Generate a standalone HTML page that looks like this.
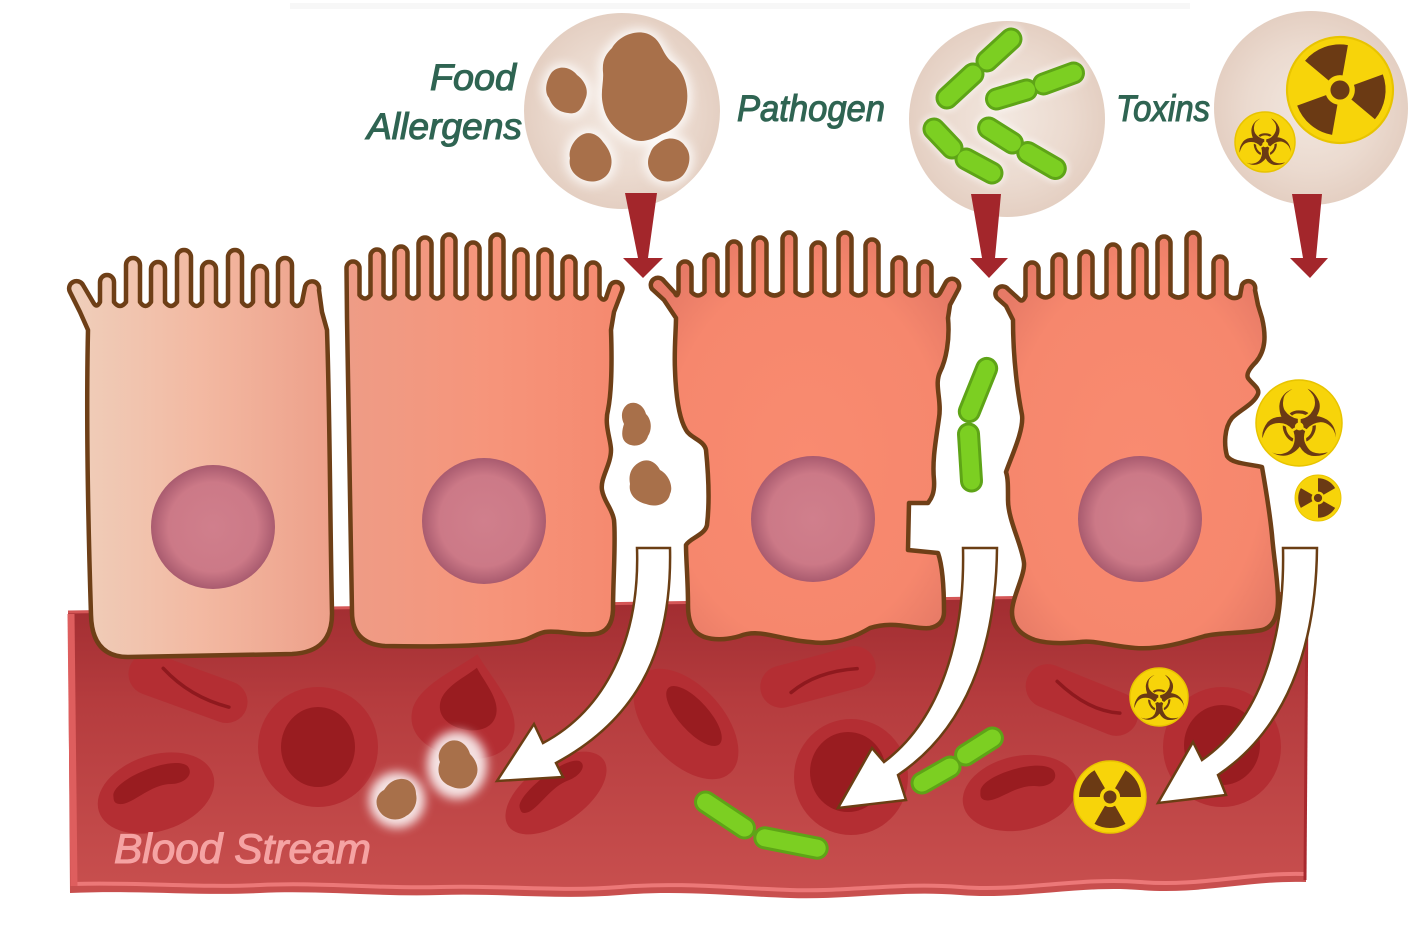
<!DOCTYPE html>
<html><head><meta charset="utf-8"><style>html,body{margin:0;padding:0;background:#fff;}svg{display:block}</style></head>
<body>
<svg width="1420" height="925" viewBox="0 0 1420 925" xmlns="http://www.w3.org/2000/svg">
<defs>
<linearGradient id="vessel" gradientUnits="userSpaceOnUse" x1="0" y1="593" x2="0" y2="900">
<stop offset="0" stop-color="#a02c30"/><stop offset="0.35" stop-color="#b53c3e"/><stop offset="1" stop-color="#c9504f"/>
</linearGradient>
<linearGradient id="c1" x1="0" y1="0" x2="1" y2="0">
<stop offset="0" stop-color="#efcfbb"/><stop offset="0.5" stop-color="#f3b9a2"/><stop offset="1" stop-color="#eda08a"/>
</linearGradient>
<linearGradient id="c2" x1="0" y1="0" x2="1" y2="0">
<stop offset="0" stop-color="#ee9c86"/><stop offset="0.5" stop-color="#f6957b"/><stop offset="1" stop-color="#f5896f"/>
</linearGradient>
<radialGradient id="c3" cx="0.5" cy="0.55" r="0.6">
<stop offset="0" stop-color="#f98b70"/><stop offset="0.75" stop-color="#f6876d"/><stop offset="1" stop-color="#e67a66"/>
</radialGradient>
<radialGradient id="nuc" cx="0.5" cy="0.5" r="0.5">
<stop offset="0" stop-color="#d07f8c"/><stop offset="0.72" stop-color="#cc7987"/><stop offset="1" stop-color="#a95b6f"/>
</radialGradient>
<radialGradient id="circ" cx="0.5" cy="0.5" r="0.5">
<stop offset="0" stop-color="#f2e7df"/><stop offset="0.65" stop-color="#ebdacf"/><stop offset="1" stop-color="#e4cfc2"/>
</radialGradient>
<filter id="blur" x="-50%" y="-50%" width="200%" height="200%"><feGaussianBlur stdDeviation="5"/></filter>
<filter id="blur2" x="-50%" y="-50%" width="200%" height="200%"><feGaussianBlur stdDeviation="3"/></filter>
<g id="rad">
<circle r="100" fill="#f7d40a" stroke="#e8c400" stroke-width="4"/>
<path id="blade" d="M 14 24.25 L 43 74.48 A 86 86 0 0 1 -43 74.48 L -14 24.25 A 28 28 0 0 0 14 24.25 Z" fill="#6b3a14"/>
<use href="#blade" transform="rotate(120)"/>
<use href="#blade" transform="rotate(240)"/>
<circle r="18" fill="#6b3a14"/>
</g>
<path id="cres" d="M -38 -2 C -36 -18 28 -24 38 -8 C 42 2 30 8 18 4 C 0 -2 -20 10 -32 8 C -40 6 -39 2 -38 -2 Z"/>
<path id="tear" d="M 0 -55 C 18 -35 52 -12 52 14 C 52 38 28 50 0 50 C -28 50 -52 38 -52 14 C -52 -12 -18 -35 0 -55 Z"/>
<path id="b1" d="M 612 48 C 620 34 640 28 652 36 C 662 42 662 54 672 62 C 685 72 690 90 686 108 C 683 122 674 130 662 134 C 652 140 640 144 630 138 C 618 132 606 122 603 105 C 600 92 604 82 603 72 C 602 60 606 54 612 48 Z"/>
<path id="b2" d="M 552 72 C 560 64 572 68 577 75 C 584 80 590 90 585 100 C 582 108 578 115 568 113 C 558 112 552 106 549 98 C 544 92 546 80 552 72 Z"/>
<path id="b3" d="M 580 136 C 588 130 598 134 603 142 C 610 150 614 160 610 170 C 606 180 594 184 584 180 C 574 176 568 168 570 158 C 568 150 574 140 580 136 Z"/>
<path id="b4" d="M 660 142 C 668 136 680 138 685 146 C 692 154 690 166 684 174 C 678 182 664 184 656 178 C 648 172 646 162 650 154 C 652 148 654 146 660 142 Z"/>
<path id="b5" d="M 628 404 C 636 400 644 406 646 414 C 652 420 652 430 648 436 C 646 444 636 448 628 444 C 620 440 622 430 624 424 C 620 416 622 408 628 404 Z"/>
<path id="b6" d="M 640 462 C 648 458 656 462 660 470 C 668 474 674 486 670 494 C 668 504 656 508 646 504 C 636 502 628 494 630 484 C 628 474 632 466 640 462 Z"/>
<path id="b7" d="M 450 741 C 460 738 468 746 470 754 C 478 762 480 772 474 780 C 470 790 458 790 450 786 C 440 782 436 772 440 762 C 436 754 442 744 450 741 Z"/>
<path id="b8" d="M 400 779 C 410 778 416 786 416 794 C 418 802 414 812 406 816 C 398 822 386 820 380 812 C 374 804 376 794 384 790 C 388 784 392 780 400 779 Z"/>
</defs>

<!-- faint top line -->
<rect x="290" y="3" width="900" height="6" fill="#f7f7f7"/>

<!-- blood vessel -->
<path d="M 68 612 L 1308 593 L 1306 882 C 1250 880 1200 895 1140 890 C 1080 885 1020 900 960 895 C 900 890 850 900 790 898 C 730 896 680 890 620 895 C 560 900 500 893 440 895 C 380 897 320 890 260 893 C 200 896 140 890 70 893 Z" fill="url(#vessel)"/>
<path d="M 1306 874 C 1250 872 1200 887 1140 882 C 1080 877 1020 892 960 887 C 900 882 850 892 790 890 C 730 888 680 882 620 887 C 560 892 500 885 440 887 C 380 889 320 882 260 885 C 200 888 140 882 73 884" stroke="#ec7878" stroke-width="4" fill="none"/>
<path d="M 71 614 L 74 886" stroke="#de5e5e" stroke-width="7" fill="none"/>
<path d="M 68 612 L 1308 593" stroke="#d45656" stroke-width="3" fill="none"/>
<path d="M 1307 594 L 1305 880" stroke="#a8292e" stroke-width="3" fill="none"/>

<!-- red blood cells -->
<g fill="#b42e33">
<rect x="-62" y="-21" width="124" height="42" rx="21" transform="translate(188,688) rotate(20)"/>
<rect x="-59" y="-21" width="118" height="42" rx="21" transform="translate(818,677) rotate(-15)"/>
<rect x="-59" y="-22" width="118" height="44" rx="22" transform="translate(1082,700) rotate(22)"/>
<ellipse cx="318" cy="747" rx="60" ry="60"/>
<ellipse cx="851" cy="777" rx="57" ry="58"/>
<ellipse cx="1222" cy="747" rx="59" ry="60"/>
<ellipse cx="156" cy="793" rx="60" ry="38" transform="rotate(-18 156 793)"/>
<ellipse cx="556" cy="793" rx="58" ry="30" transform="rotate(-35 556 793)"/>
<ellipse cx="686" cy="724" rx="66" ry="38" transform="rotate(48 686 724)"/>
<ellipse cx="1020" cy="793" rx="58" ry="37" transform="rotate(-12 1020 793)"/>
<use href="#tear" transform="translate(466,708) rotate(12)"/>
</g>
<g fill="#991c20">
<ellipse cx="318" cy="747" rx="37" ry="40"/>
<ellipse cx="848" cy="772" rx="38" ry="40"/>
<ellipse cx="1222" cy="745" rx="38" ry="40"/>
<use href="#cres" transform="translate(152,786) rotate(-18) scale(1.05,1)"/>
<use href="#cres" transform="translate(552,788) rotate(-35) scale(1,0.8)"/>
<use href="#cres" transform="translate(1018,786) rotate(-12)"/>
<ellipse cx="694" cy="716" rx="38" ry="15" transform="rotate(48 694 716)"/>
<use href="#tear" transform="translate(470,700) rotate(12) scale(0.55,0.6)"/>
</g>
<g stroke="#8f191e" stroke-width="3.5" fill="none" stroke-linecap="round">
<path d="M -30 -10 Q 5 8 45 4" transform="translate(188,688) rotate(20)"/>
<path d="M -30 8 Q 0 -6 40 2" transform="translate(818,677) rotate(-15)"/>
<path d="M -30 -8 Q 10 8 40 -2" transform="translate(1082,700) rotate(22)"/>
</g>

<!-- allergens in blood -->
<g fill="#fff" opacity="0.85" filter="url(#blur)">
<ellipse cx="457" cy="765" rx="30" ry="34"/>
<ellipse cx="397" cy="800" rx="28" ry="28"/>
</g>
<g fill="#a8704a">
<use href="#b7"/><use href="#b8"/>
</g>

<!-- bacteria in blood -->
<g stroke-linecap="round">
<g stroke="#5ea417" stroke-width="23">
<line x1="705.5" y1="802" x2="744.5" y2="828"/>
<line x1="764.8" y1="837.8" x2="817.2" y2="848.2"/>
<line x1="922" y1="783" x2="950" y2="767"/>
<line x1="965.6" y1="755" x2="992.4" y2="738"/>
</g>
<g stroke="#7ccf22" stroke-width="17">
<line x1="705.5" y1="802" x2="744.5" y2="828"/>
<line x1="764.8" y1="837.8" x2="817.2" y2="848.2"/>
<line x1="922" y1="783" x2="950" y2="767"/>
<line x1="965.6" y1="755" x2="992.4" y2="738"/>
</g>
</g>

<!-- toxins in blood -->
<circle cx="1159" cy="697" r="29" fill="#f7d40a" stroke="#e8c400" stroke-width="1.5"/>
<text x="1159" y="720" font-family="DejaVu Sans" font-size="62" fill="#6b3a14" text-anchor="middle">☣</text>
<use href="#rad" transform="translate(1110,797) scale(0.36)"/>

<!-- cells -->
<g stroke="#6e3f17" stroke-width="4.5" stroke-linejoin="round">
<path fill="url(#c1)" d="M 88 330 L 80 312 L 70 292 A 7 7 0 0 1 83 285 L 93 302 Q 96.5 309 100 302
L 100 282 A 7 7 0 0 1 114 282 L 114 302 Q 120 310 126 302
L 126 265 A 7 7 0 0 1 140 265 L 140 302 Q 145.5 310 151 302
L 151 269 A 7 7 0 0 1 165 269 L 165 302 Q 171 310 177 302
L 177 257 A 7 7 0 0 1 191 257 L 191 302 Q 196.5 310 202 302
L 202 269 A 7 7 0 0 1 216 269 L 216 302 Q 222 310 228 302
L 228 257 A 7 7 0 0 1 242 257 L 242 302 Q 247.5 310 253 302
L 253 273 A 7 7 0 0 1 267 273 L 267 302 Q 272.5 310 278 302
L 278 265 A 7 7 0 0 1 292 265 L 292 302 Q 297 310 302 302
L 305 287 A 7 7 0 0 1 319 290 L 322 312 L 327 330
C 330 420 330 520 332 612 Q 333 652 292 654 L 128 657 Q 92 657 91 615 C 88 520 86 420 88 330 Z"/>

<path fill="url(#c2)" d="M 347 318 L 346.5 268 A 6.5 6.5 0 0 1 359.5 268 L 359.5 295 Q 365 302 370.5 295
L 370.5 256 A 6.5 6.5 0 0 1 383.5 256 L 383.5 295 Q 389 302 394.5 295
L 394.5 253 A 6.5 6.5 0 0 1 407.5 253 L 407.5 295 Q 413 302 418.5 295
L 418.5 244 A 6.5 6.5 0 0 1 431.5 244 L 431.5 295 Q 437 302 442.5 295
L 442.5 241 A 6.5 6.5 0 0 1 455.5 241 L 455.5 295 Q 461 302 466.5 295
L 466.5 249 A 6.5 6.5 0 0 1 479.5 249 L 479.5 295 Q 485 302 490.5 295
L 490.5 241 A 6.5 6.5 0 0 1 503.5 241 L 503.5 295 Q 509 302 514.5 295
L 514.5 256 A 6.5 6.5 0 0 1 527.5 256 L 527.5 295 Q 533 302 538.5 295
L 538.5 256 A 6.5 6.5 0 0 1 551.5 256 L 551.5 295 Q 557 302 562.5 295
L 562.5 263 A 6.5 6.5 0 0 1 575.5 263 L 575.5 295 Q 581 302 586.5 295
L 586.5 269 A 6.5 6.5 0 0 1 599.5 269 L 599.5 296 Q 603 302 606 298
L 610 286 A 6.5 6.5 0 0 1 622 291 L 614 312 L 611 330
C 612 360 612 390 608 410 C 604 425 611 440 611 450 C 611 465 600 478 602 490 C 604 502 612 508 614 520
C 616 540 613 580 613 610 Q 612 632 595 634 C 575 636 560 630 545 632 C 535 634 530 640 515 642
C 480 646 430 647 385 646 Q 352 644 352 612 C 350 520 348 420 347 318 Z"/>

<path fill="url(#c3)" d="M 676 318 L 664 300 L 652 289 A 7 7 0 0 1 664 281 L 675 293 Q 677 298 678.5 292
L 678.5 268 A 6.5 6.5 0 0 1 691.5 268 L 691.5 292 Q 698 299 704.5 292
L 704.5 261 A 6.5 6.5 0 0 1 717.5 261 L 717.5 292 Q 722.5 299 727.5 292
L 727.5 248 A 6.5 6.5 0 0 1 740.5 248 L 740.5 292 Q 747 299 753.5 292
L 753.5 244 A 6.5 6.5 0 0 1 766.5 244 L 766.5 292 Q 774.5 299 782.5 292
L 782.5 239 A 6.5 6.5 0 0 1 795.5 239 L 795.5 292 Q 803.5 299 811.5 292
L 811.5 249 A 6.5 6.5 0 0 1 824.5 249 L 824.5 292 Q 831.5 299 838.5 292
L 838.5 239 A 6.5 6.5 0 0 1 851.5 239 L 851.5 292 Q 858.5 299 865.5 292
L 865.5 246 A 6.5 6.5 0 0 1 878.5 246 L 878.5 292 Q 885.5 299 892.5 292
L 892.5 264 A 6.5 6.5 0 0 1 905.5 264 L 905.5 292 Q 912 299 918.5 292
L 918.5 268 A 6.5 6.5 0 0 1 931.5 268 L 931.5 292 Q 936 299 940 293
L 946 282 A 7 7 0 0 1 958 290 L 950 305 L 948 318
C 950 340 946 360 940 372 C 934 385 942 400 939 418 C 936 440 932 460 934 480 C 935 495 930 500 928 503
L 909 503 L 908 550 L 938 553 C 944 570 944 600 944 612
Q 944 625 930 628 C 915 630 895 620 870 628 C 850 640 830 645 810 642 C 780 640 760 628 740 636 C 720 642 700 640 693 628 Q 688 620 688 605
C 688 580 686 560 686 545 C 690 538 705 535 707 525 C 710 500 708 470 706 450 C 704 440 690 438 686 430 C 680 420 676 400 675 370 C 674 350 676 330 676 318 Z"/>

<path fill="url(#c3)" d="M 1013 320 L 1006 306 L 997 298 A 7 7 0 0 1 1008 289 L 1020 300 Q 1023 302 1025.5 296
L 1025.5 269 A 6.5 6.5 0 0 1 1038.5 269 L 1038.5 294 Q 1045.5 301 1052.5 294
L 1052.5 261 A 6.5 6.5 0 0 1 1065.5 261 L 1065.5 294 Q 1072.5 301 1079.5 294
L 1079.5 258 A 6.5 6.5 0 0 1 1092.5 258 L 1092.5 294 Q 1099.5 301 1106.5 294
L 1106.5 251 A 6.5 6.5 0 0 1 1119.5 251 L 1119.5 294 Q 1126.5 301 1133.5 294
L 1133.5 251 A 6.5 6.5 0 0 1 1146.5 251 L 1146.5 294 Q 1152 301 1157.5 294
L 1157.5 243 A 6.5 6.5 0 0 1 1170.5 243 L 1170.5 294 Q 1178.5 301 1186.5 294
L 1186.5 239 A 6.5 6.5 0 0 1 1199.5 239 L 1199.5 294 Q 1206.5 301 1213.5 294
L 1213.5 263 A 6.5 6.5 0 0 1 1226.5 263 L 1226.5 294 Q 1233 301 1240 296
L 1242 285 A 7 7 0 0 1 1255 290 L 1258 305 L 1262 318
C 1266 335 1266 350 1256 362 C 1250 368 1246 374 1248 378 C 1252 384 1260 388 1258 394
C 1254 404 1240 410 1232 418 C 1224 428 1224 445 1227 456 C 1232 464 1250 464 1262 467
C 1266 490 1270 515 1272 535 C 1274 560 1278 580 1278 600 Q 1278 626 1262 630
C 1240 634 1222 632 1205 636 C 1185 642 1160 650 1135 648 C 1110 646 1095 640 1080 642
C 1060 644 1045 643 1035 640 Q 1012 632 1012 612 C 1012 598 1025 575 1024 563
C 1022 545 1008 520 1008 500 C 1008 485 1008 478 1006 472 C 1012 455 1024 430 1022 415
C 1018 395 1013 360 1013 320 Z"/>
</g>

<!-- nuclei -->
<g fill="url(#nuc)">
<ellipse cx="213" cy="527" rx="62" ry="62"/>
<ellipse cx="484" cy="521" rx="62" ry="63"/>
<ellipse cx="813" cy="519" rx="62" ry="63"/>
<ellipse cx="1140" cy="519" rx="62" ry="63"/>
</g>

<!-- allergens in gap -->
<g fill="#a8704a"><use href="#b5"/><use href="#b6"/></g>

<!-- bacteria in gap -->
<g stroke-linecap="round">
<line x1="986.7" y1="368.4" x2="969.3" y2="411.6" stroke="#5ea417" stroke-width="23"/>
<line x1="968.5" y1="434" x2="971.5" y2="481" stroke="#5ea417" stroke-width="23"/>
<line x1="986.7" y1="368.4" x2="969.3" y2="411.6" stroke="#7ccf22" stroke-width="17"/>
<line x1="968.5" y1="434" x2="971.5" y2="481" stroke="#7ccf22" stroke-width="17"/>
</g>

<!-- toxins beside cell 4 -->
<circle cx="1299" cy="423" r="43" fill="#f7d40a" stroke="#e8c400" stroke-width="1.5"/>
<text x="1299" y="456" font-family="DejaVu Sans" font-size="92" fill="#6b3a14" text-anchor="middle">☣</text>
<use href="#rad" transform="translate(1318,498) scale(0.23) rotate(90)"/>

<!-- white curved arrows -->
<g fill="#ffffff" stroke="#6b3e14" stroke-width="2.5" stroke-linejoin="miter">
<path d="M 637 548 L 670 548 C 672 640 645 715 556 763 L 563 777 L 497 781 L 534 724 L 543 743 C 605 710 640 640 637 548 Z"/>
<path d="M 963 548 L 997 548 C 996 650 965 730 898 775 L 906 800 L 838 808 L 872 748 L 884 762 C 940 720 965 640 963 548 Z"/>
<path d="M 1283 548 L 1317 548 C 1316 650 1285 730 1218 775 L 1226 795 L 1158 803 L 1193 742 L 1202 760 C 1260 720 1285 640 1283 548 Z"/>
</g>

<!-- top circles -->
<circle cx="622" cy="111" r="98" fill="url(#circ)"/>
<circle cx="1007" cy="119" r="98" fill="url(#circ)"/>
<circle cx="1311" cy="108" r="97" fill="url(#circ)"/>

<!-- food allergens -->
<g fill="#ffffff" stroke="#ffffff" stroke-width="8" opacity="0.8" filter="url(#blur)">
<use href="#b1"/><use href="#b2"/><use href="#b3"/><use href="#b4"/>
</g>
<g fill="#a8704a"><use href="#b1"/><use href="#b2"/><use href="#b3"/><use href="#b4"/></g>

<!-- pathogens in circle -->
<g stroke-linecap="round">
<g stroke="#ffffff" stroke-width="28" opacity="0.5" filter="url(#blur2)">
<line x1="947" y1="98" x2="973" y2="74"/><line x1="987" y1="61" x2="1011" y2="39"/>
<line x1="996.5" y1="99" x2="1026.5" y2="90"/><line x1="1043.5" y1="84" x2="1073.5" y2="73"/>
<line x1="934" y1="129" x2="952" y2="148"/><line x1="966" y1="159" x2="992" y2="173"/>
<line x1="988.6" y1="128" x2="1012.4" y2="143"/><line x1="1027.7" y1="152.5" x2="1055.3" y2="168.5"/>
</g>
<g stroke="#5ea417" stroke-width="23">
<line x1="947" y1="98" x2="973" y2="74"/><line x1="987" y1="61" x2="1011" y2="39"/>
<line x1="996.5" y1="99" x2="1026.5" y2="90"/><line x1="1043.5" y1="84" x2="1073.5" y2="73"/>
<line x1="934" y1="129" x2="952" y2="148"/><line x1="966" y1="159" x2="992" y2="173"/>
<line x1="988.6" y1="128" x2="1012.4" y2="143"/><line x1="1027.7" y1="152.5" x2="1055.3" y2="168.5"/>
</g>
<g stroke="#7ccf22" stroke-width="17">
<line x1="947" y1="98" x2="973" y2="74"/><line x1="987" y1="61" x2="1011" y2="39"/>
<line x1="996.5" y1="99" x2="1026.5" y2="90"/><line x1="1043.5" y1="84" x2="1073.5" y2="73"/>
<line x1="934" y1="129" x2="952" y2="148"/><line x1="966" y1="159" x2="992" y2="173"/>
<line x1="988.6" y1="128" x2="1012.4" y2="143"/><line x1="1027.7" y1="152.5" x2="1055.3" y2="168.5"/>
</g>
</g>

<!-- toxins in circle -->
<use href="#rad" transform="translate(1340,90) scale(0.53) rotate(40)"/>
<circle cx="1265" cy="142" r="30" fill="#f7d40a" stroke="#e8c400" stroke-width="1.5"/>
<text x="1265" y="165" font-family="DejaVu Sans" font-size="64" fill="#6b3a14" text-anchor="middle">☣</text>

<!-- red arrows -->
<g fill="#a3262b">
<polygon points="625,193 657,193 648,258 663,258 643,278 623,258 638,258"/>
<polygon points="971,194 1001,194 995,258 1008,258 989,278 970,258 982,258"/>
<polygon points="1292,194 1322,194 1316,258 1328,258 1310,278 1290,258 1303,258"/>
</g>

<!-- labels -->
<g font-family="Liberation Sans, sans-serif" font-style="italic" fill="#2f6452" stroke="#2f6452" stroke-width="1.1" font-size="37">
<text x="430" y="90" textLength="86" lengthAdjust="spacingAndGlyphs">Food</text>
<text x="367" y="139" textLength="155" lengthAdjust="spacingAndGlyphs">Allergens</text>
<text x="737" y="121" textLength="148" lengthAdjust="spacingAndGlyphs">Pathogen</text>
<text x="1116" y="121" textLength="94" lengthAdjust="spacingAndGlyphs">Toxins</text>
</g>
<text x="114" y="863" font-family="Liberation Sans, sans-serif" font-style="italic" font-size="42" fill="#f5a3a3" stroke="#f5a3a3" stroke-width="1.1" textLength="257" lengthAdjust="spacingAndGlyphs">Blood Stream</text>
</svg>
</body></html>
